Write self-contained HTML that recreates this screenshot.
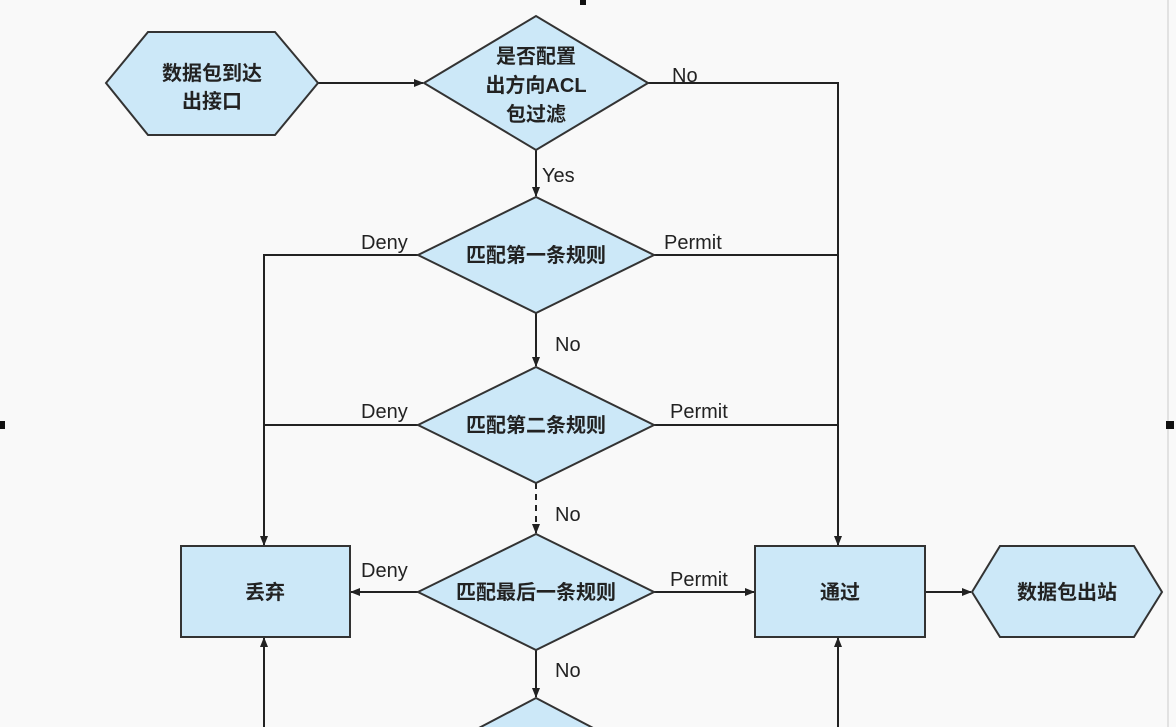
<!DOCTYPE html>
<html><head><meta charset="utf-8"><style>
html,body{margin:0;padding:0;background:#f9f9f9;width:1176px;height:727px;overflow:hidden;}
svg{display:block}
text{font-family:"Liberation Sans","Noto Sans CJK SC",sans-serif;fill:#222;}
</style></head><body>
<svg width="1176" height="727" viewBox="0 0 1176 727" xmlns="http://www.w3.org/2000/svg">
<defs><marker id="a" markerWidth="10" markerHeight="10" refX="9" refY="5" orient="auto" markerUnits="userSpaceOnUse"><path d="M0,1 L10,5 L0,9 z" fill="#222"/></marker></defs>
<rect x="0" y="0" width="1176" height="727" fill="#f9f9f9"/>
<line x1="1168" y1="0" x2="1168" y2="727" stroke="#ccc"/>
<rect x="580" y="0" width="6" height="5" fill="#111"/>
<rect x="0" y="421" width="5" height="8" fill="#111"/>
<rect x="1166" y="421" width="8" height="8" fill="#111"/>
<g stroke="#222" stroke-width="2" fill="none">
<line x1="318" y1="83" x2="423" y2="83" marker-end="url(#a)"/>
<polyline points="648,83 838,83 838,545" marker-end="url(#a)"/>
<line x1="536" y1="150" x2="536" y2="196" marker-end="url(#a)"/>
<line x1="536" y1="313" x2="536" y2="366" marker-end="url(#a)"/>
<line x1="536" y1="483" x2="536" y2="533" marker-end="url(#a)" stroke-dasharray="6,5"/>
<line x1="536" y1="650" x2="536" y2="697" marker-end="url(#a)"/>
<polyline points="418,255 264,255 264,545" marker-end="url(#a)"/>
<line x1="418" y1="425" x2="264" y2="425"/>
<line x1="654" y1="255" x2="838" y2="255"/>
<line x1="654" y1="425" x2="838" y2="425"/>
<line x1="418" y1="592" x2="351" y2="592" marker-end="url(#a)"/>
<line x1="654" y1="592" x2="754" y2="592" marker-end="url(#a)"/>
<line x1="925" y1="592" x2="971" y2="592" marker-end="url(#a)"/>
<line x1="264" y1="727" x2="264" y2="638" marker-end="url(#a)"/>
<line x1="838" y1="727" x2="838" y2="638" marker-end="url(#a)"/>
</g>
<g fill="#cce8f8" stroke="#333" stroke-width="2">
<polygon points="106,83 148,32 275,32 318,83 275,135 148,135"/>
<polygon points="424,83 536,16 648,83 536,150"/>
<polygon points="418,255 536,197 654,255 536,313"/>
<polygon points="418,425 536,367 654,425 536,483"/>
<polygon points="418,592 536,534 654,592 536,650"/>
<polygon points="456,740 536,698 616,740"/>
<rect x="181" y="546" width="169" height="91"/>
<rect x="755" y="546" width="170" height="91"/>
<polygon points="972,592 1000,546 1134,546 1162,592 1134,637 1000,637"/>
</g>
<g font-size="20" text-anchor="middle" font-weight="bold">
<text x="212" y="80">数据包到达</text>
<text x="212" y="108">出接口</text>
<text x="536" y="63">是否配置</text>
<text x="536" y="92">出方向ACL</text>
<text x="536" y="121">包过滤</text>
<text x="536" y="262">匹配第一条规则</text>
<text x="536" y="432">匹配第二条规则</text>
<text x="536" y="599">匹配最后一条规则</text>
<text x="265" y="599">丢弃</text>
<text x="840" y="599">通过</text>
<text x="1067" y="599">数据包出站</text>
</g>
<g font-size="20">
<text x="672" y="82">No</text>
<text x="542" y="182">Yes</text>
<text x="361" y="249">Deny</text>
<text x="664" y="249">Permit</text>
<text x="555" y="351">No</text>
<text x="361" y="418">Deny</text>
<text x="670" y="418">Permit</text>
<text x="555" y="521">No</text>
<text x="361" y="577">Deny</text>
<text x="670" y="586">Permit</text>
<text x="555" y="677">No</text>
</g>
</svg>
</body></html>
